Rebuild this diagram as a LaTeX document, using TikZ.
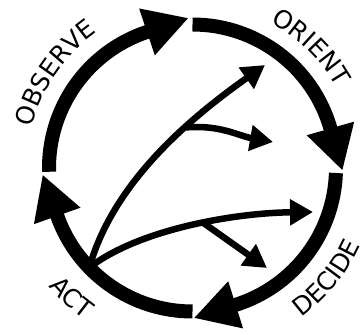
\documentclass[tikz,border=0pt]{standalone}
\usepackage{fontspec}
\setmainfont{DejaVu Sans}
\usetikzlibrary{arrows.meta, decorations.text}
\newcommand{\lblfont}{\fontsize{25}{25}\selectfont}
\tikzset{
  cyc/.style={line width=14pt, -{Triangle[length=44pt, width=46pt]}},
  flow/.style={line width=6.5pt, -{Triangle[length=23pt, width=25pt]}},
  lbl/.style={decorate, decoration={text along path, text align=center,
              text={|\lblfont|#1}}}
}

\begin{document}
\begin{tikzpicture}[x=1pt, y=1pt]
  \useasboundingbox (-192.5,-166) rectangle (168.5,168);
  % the loop
  \foreach \a/\b in {181.5/108.5, 90/16, -2/-72.5, -90/-160.5}
    \draw[cyc] (\a:143.5) arc[start angle=\a, end angle=\b, radius=143.5]
      -- ++({\b-90}:44);
  % labels
  \path[lbl=OBSERVE] (200.4:166) arc[start angle=200.4, end angle=90.4, radius=166];
  \path[lbl=ORIENT] (100.6:165) arc[start angle=100.6, end angle=-9.4, radius=165];
  \path[lbl=DECIDE] (-94.3:185) arc[start angle=-94.3, end angle=15.7, radius=185];
  \path[lbl=ACT] (-188:186) arc[start angle=-188, end angle=-78, radius=186];
  % inner arrows
  \coordinate (act) at (-136:143.5);
  \coordinate (t1) at (72.5,103);
  \coordinate (t2) at (80.5,26);
  \coordinate (t3) at (120.5,-44);
  \coordinate (t4) at (74.5,-100);
  \draw[flow] (act) .. controls (-78,-10) and (5,55) .. (t1) coordinate[pos=0.62] (fork1);
  \draw[flow] (fork1) to[out=5, in=170] (t2);
  \draw[flow] (act) .. controls (-55,-62) and (40,-45) .. (t3) coordinate[pos=0.56] (fork2);
  \draw[flow] (fork2) -- (t4);
\end{tikzpicture}
\end{document}
